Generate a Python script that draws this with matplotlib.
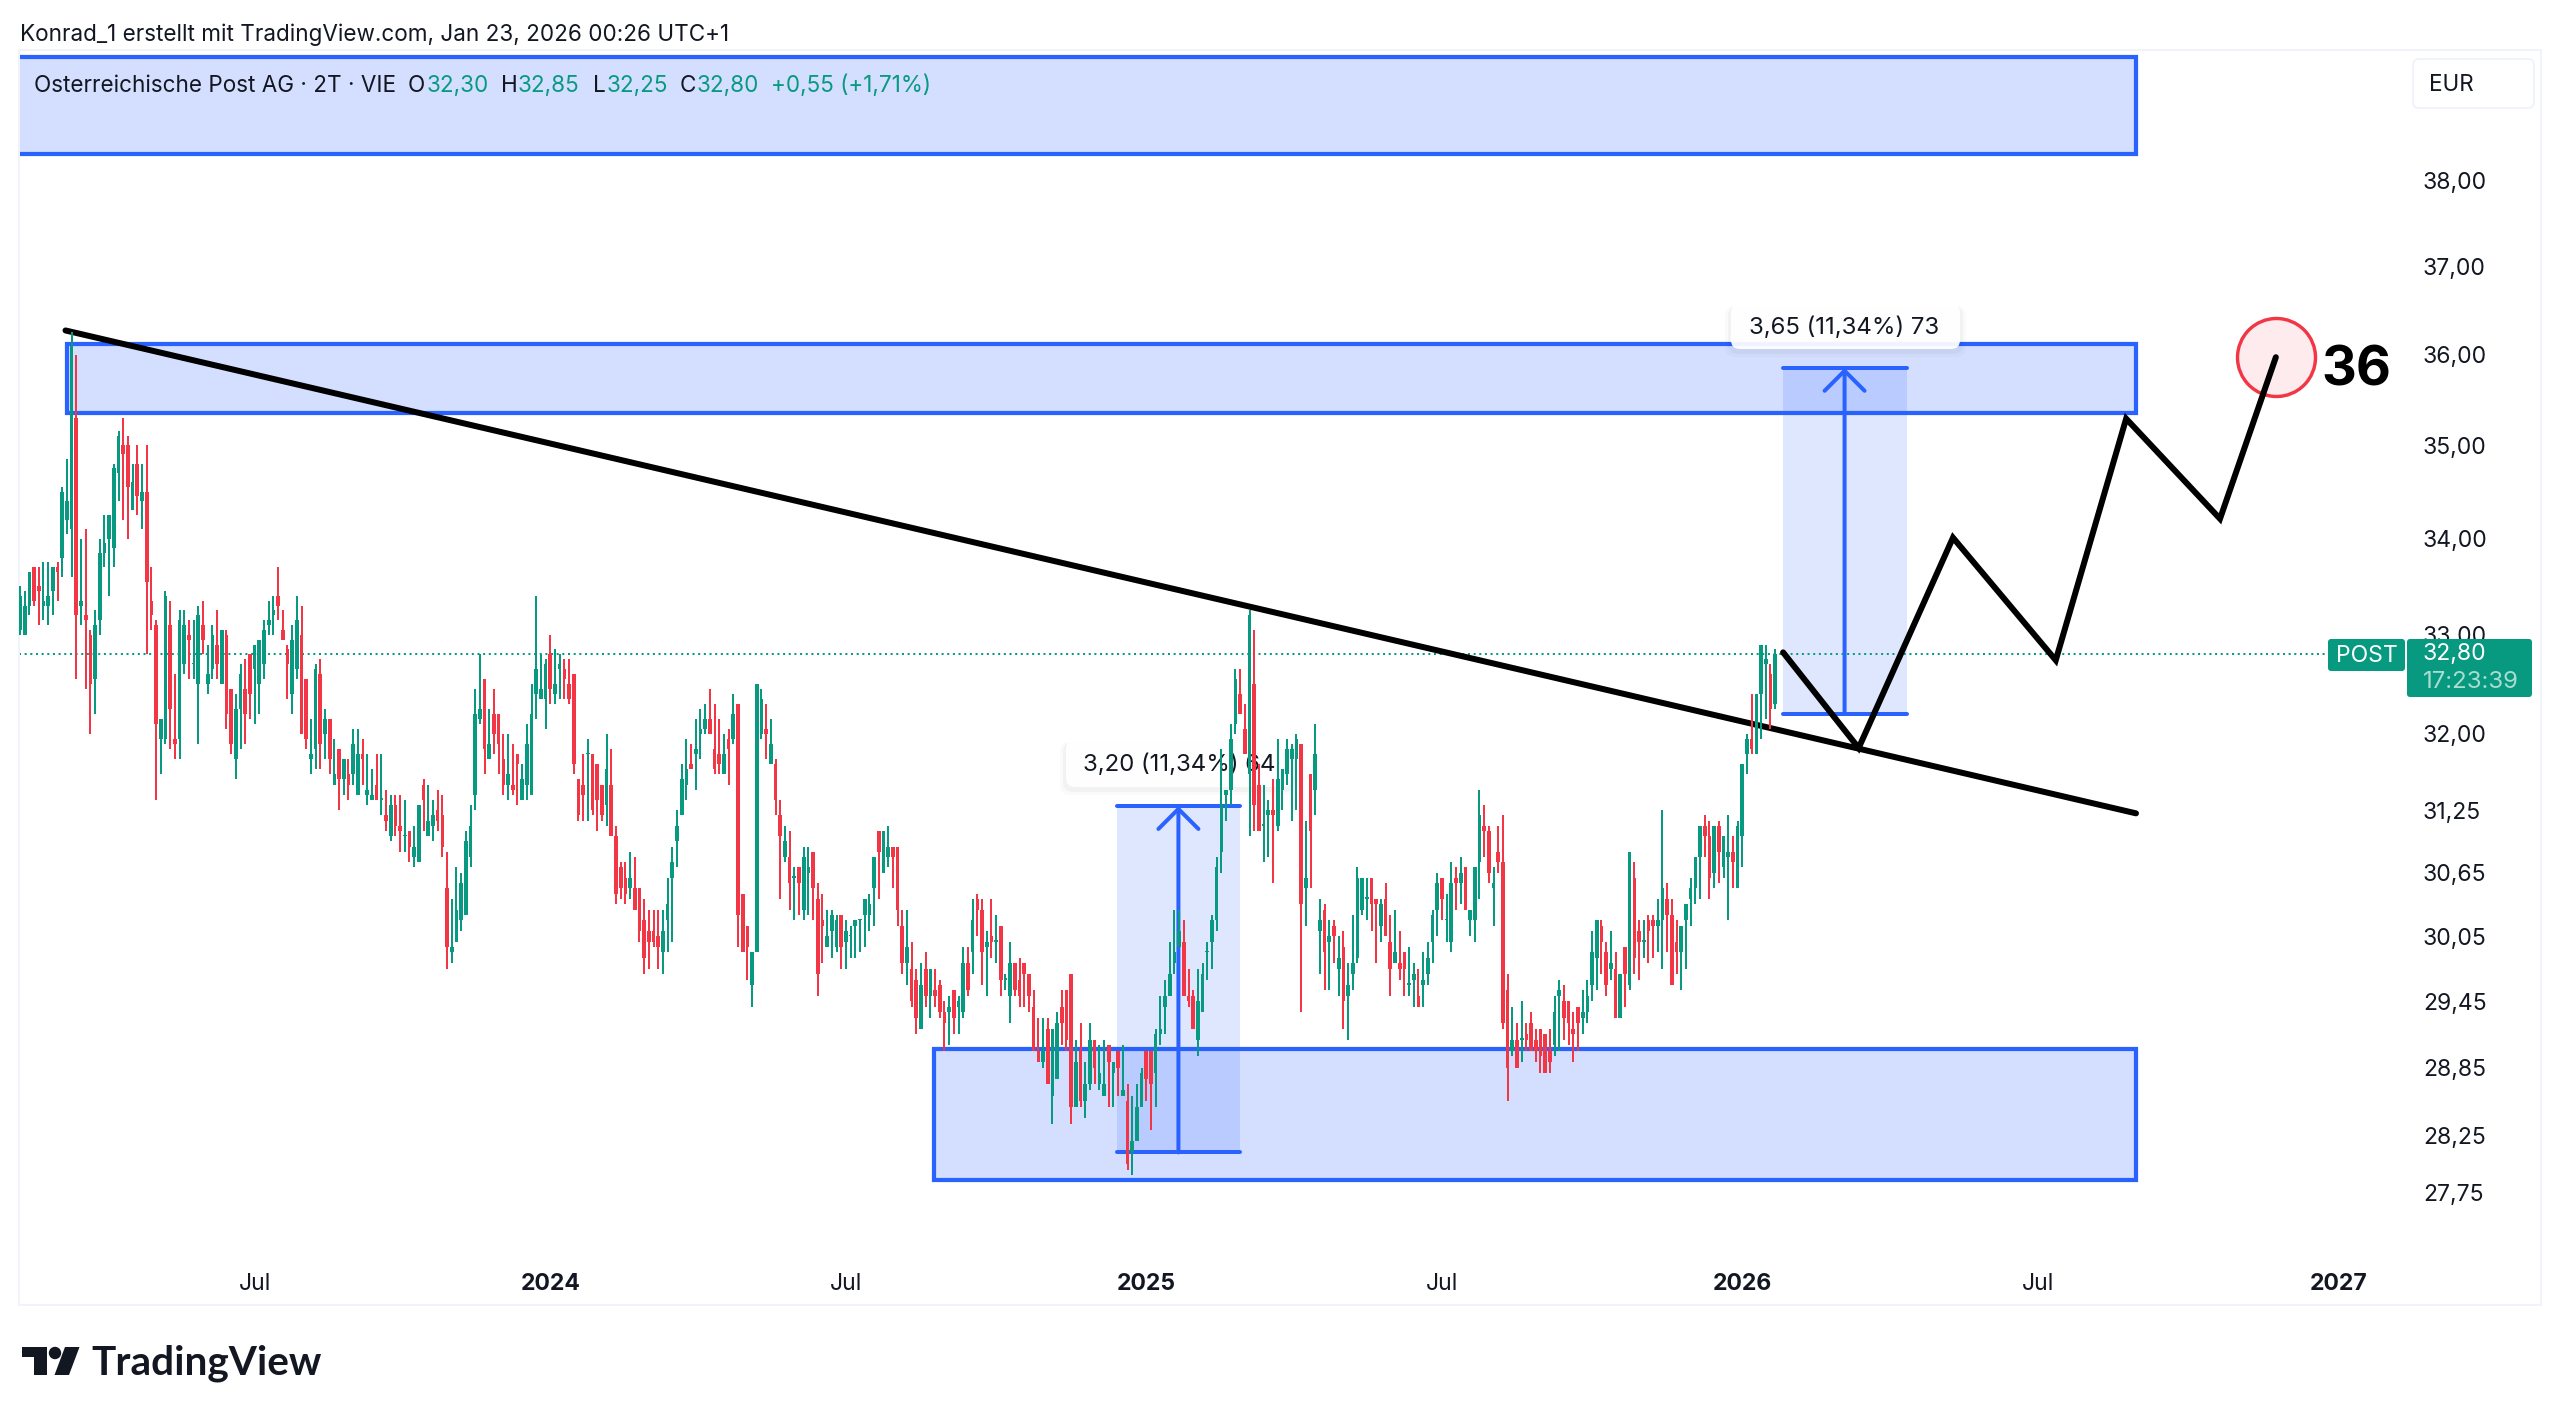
import numpy as np
from matplotlib import pyplot as plt
from matplotlib import transforms
from matplotlib.patches import Rectangle, FancyBboxPatch, Polygon, Circle

opens = [33.05,33.00,33.30,33.70,33.50,33.30,33.30,33.45,33.70,33.80,
    34.20,34.10,35.30,33.30,33.20,33.00,32.55,33.15,33.85,34.00,
    33.90,34.70,35.00,35.00,34.30,34.80,34.40,34.50,33.35,33.10,
    31.95,31.95,33.10,31.95,31.95,32.70,33.00,32.70,32.50,33.10,
    32.50,32.65,32.90,32.50,33.00,32.45,31.75,32.25,32.45,32.80,
    32.65,32.50,32.70,33.10,33.20,33.40,33.05,32.85,32.40,32.65,
    33.00,32.55,31.75,31.85,32.60,32.00,32.15,31.50,31.85,31.55,
    31.60,31.60,31.40,31.80,31.40,31.35,31.50,31.35,31.20,31.00,
    31.30,31.10,31.00,31.05,30.80,30.75,31.50,31.00,31.10,31.25,
    31.20,30.50,29.90,30.00,30.20,30.25,30.80,31.40,32.15,32.55,
    31.75,32.20,32.20,31.75,31.50,31.50,31.80,31.35,31.50,31.40,
    32.40,32.35,32.35,32.80,32.40,32.65,32.65,32.50,32.60,31.55,
    31.50,31.80,31.80,31.70,31.50,31.30,31.50,31.00,30.70,30.60,
    30.50,30.50,30.50,30.20,30.10,30.10,30.05,29.90,30.20,30.60,
    30.95,31.20,31.50,31.70,31.80,32.00,32.05,32.15,31.85,31.80,
    31.60,31.95,31.95,32.30,30.45,30.15,29.60,29.90,32.00,32.05,
    31.70,31.70,31.20,30.80,30.80,30.60,30.70,30.30,30.65,30.85,
    30.40,30.20,29.95,30.10,29.95,30.25,30.00,30.05,30.15,30.20,
    30.25,30.25,30.50,31.05,30.65,30.80,30.90,30.90,30.15,29.80,
    29.75,29.65,29.20,29.75,29.50,29.55,29.60,29.35,29.35,29.55,
    29.40,29.35,29.80,29.90,30.40,30.30,29.95,30.05,30.00,30.15,
    29.65,29.50,29.80,29.65,29.80,29.70,29.40,29.00,28.90,29.20,
    28.60,28.75,29.40,29.55,29.70,28.50,29.00,28.55,28.70,29.10,
    28.70,28.60,29.05,28.80,29.00,28.60,28.55,28.10,28.20,28.50,
    29.00,29.00,28.80,29.15,29.40,29.50,29.80,29.95,30.00,29.50,
    29.50,29.10,29.35,29.90,30.00,30.20,30.85,31.40,31.45,32.10,
    32.40,32.05,31.60,32.50,31.50,31.10,31.20,31.25,31.10,31.45,
    31.60,31.75,31.75,31.90,30.50,31.60,31.45,30.10,30.30,30.00,
    30.15,29.75,29.95,29.50,29.70,29.85,30.30,30.40,30.60,30.40,
    30.15,30.40,30.00,29.80,29.80,29.90,29.60,29.65,29.50,29.60,
    29.70,30.00,30.30,30.60,30.20,30.00,30.60,30.55,30.70,30.20,
    30.20,30.75,31.10,31.05,30.50,30.85,30.75,29.55,29.00,29.10,
    29.10,29.15,29.25,29.10,29.20,29.15,29.00,29.05,29.50,29.45,
    29.45,29.20,29.40,29.30,29.35,29.60,29.85,30.15,29.90,29.75,
    29.75,29.30,29.95,29.60,30.60,30.10,30.00,30.20,30.20,30.15,
    30.20,30.40,30.25,30.00,29.90,30.20,30.40,30.50,30.80,31.10,
    31.00,30.65,31.10,30.70,30.80,30.85,30.50,31.00,31.80,31.95,
    31.80,32.40,32.70,32.60,32.30]
highs = [33.50,33.45,33.65,33.70,33.70,33.75,33.75,33.70,33.75,34.55,
    34.85,36.25,36.00,34.00,34.10,33.05,33.25,34.00,34.25,34.25,
    34.80,35.15,35.30,35.10,34.80,35.00,34.80,35.00,33.70,33.15,
    32.15,33.45,33.35,32.60,33.25,33.25,33.15,33.15,33.30,33.35,
    32.90,33.10,33.25,33.05,33.05,32.45,32.40,32.70,32.75,32.80,
    32.90,32.95,33.15,33.35,33.40,33.70,33.25,32.90,33.10,33.40,
    33.30,32.55,32.15,32.70,32.75,32.25,32.15,31.95,31.85,31.75,
    31.75,32.05,32.05,31.95,31.80,31.65,31.80,31.80,31.45,31.40,
    31.40,31.40,31.35,31.05,31.10,31.30,31.55,31.50,31.35,31.45,
    31.40,30.85,30.40,30.70,30.65,31.05,31.30,32.45,32.80,32.55,
    32.25,32.45,32.20,32.00,32.00,31.90,31.80,31.70,32.10,32.50,
    33.40,32.80,32.75,33.00,32.85,32.80,32.75,32.75,32.60,31.55,
    31.80,31.95,31.80,31.70,31.50,32.00,31.85,31.10,30.75,30.75,
    30.85,30.80,30.50,30.40,30.30,30.30,30.30,30.30,30.60,30.90,
    31.25,31.70,31.95,31.90,32.15,32.25,32.30,32.45,32.30,32.15,
    32.00,32.05,32.40,32.30,30.45,30.15,29.90,32.50,32.45,32.30,
    32.15,31.75,31.35,31.10,31.05,30.70,30.70,30.90,30.90,30.85,
    30.55,30.45,30.30,30.30,30.25,30.25,30.20,30.15,30.20,30.20,
    30.40,30.45,30.80,31.05,31.05,31.10,30.90,30.90,30.30,30.30,
    30.00,29.75,29.80,29.90,29.75,29.75,29.65,29.45,29.50,29.55,
    29.50,29.95,29.95,30.40,30.45,30.40,30.10,30.40,30.25,30.15,
    29.70,30.00,29.80,29.85,29.80,29.70,29.55,29.30,29.30,29.30,
    29.20,29.35,29.55,29.55,29.70,29.10,29.25,28.90,29.25,29.10,
    29.05,29.10,29.05,28.90,29.00,29.05,28.70,28.60,28.70,28.85,
    29.00,29.00,29.20,29.50,29.65,30.00,30.30,30.30,30.20,29.75,
    29.55,29.75,29.80,30.00,30.25,30.80,31.85,31.45,32.10,32.65,
    32.65,32.30,33.25,33.05,31.70,31.50,31.35,31.55,31.95,31.65,
    31.95,31.90,32.00,31.90,31.15,31.60,32.10,30.40,30.35,30.20,
    30.20,30.05,30.10,29.80,30.25,30.70,30.60,30.60,30.60,30.40,
    30.40,30.55,30.25,30.30,30.10,29.90,29.95,29.80,29.75,29.90,
    30.00,30.30,30.65,30.60,30.45,30.75,30.70,30.80,30.70,30.30,
    30.70,31.45,31.30,31.10,30.70,31.10,31.20,29.70,29.40,29.25,
    29.45,29.25,29.35,29.20,29.20,29.15,29.20,29.50,29.65,29.60,
    29.45,29.35,29.40,29.55,29.65,30.10,30.20,30.20,30.00,30.10,
    29.90,29.70,29.95,30.85,30.75,30.20,30.20,30.25,30.25,30.40,
    31.25,30.55,30.40,30.20,30.15,30.35,30.60,30.80,31.10,31.20,
    31.15,31.10,31.15,31.00,31.20,31.00,31.15,31.70,32.00,32.40,
    32.40,32.90,32.90,32.70,32.85]
lows = [33.00,33.00,33.20,33.30,33.10,33.15,33.10,33.20,33.35,33.60,
    34.05,33.60,32.55,33.10,32.45,32.00,32.20,33.00,33.70,33.40,
    33.70,34.40,34.20,34.00,34.30,34.25,34.10,32.80,33.05,31.35,
    31.60,31.90,31.85,31.75,31.75,32.60,32.55,32.55,31.90,32.80,
    32.40,32.55,32.55,32.50,32.05,31.80,31.55,31.85,31.90,32.15,
    32.10,32.20,32.55,33.00,33.00,33.15,32.95,32.35,32.20,32.55,
    32.00,31.85,31.60,31.65,31.65,31.75,31.60,31.50,31.25,31.40,
    31.35,31.50,31.40,31.50,31.30,31.35,31.35,31.20,31.05,30.95,
    31.00,30.85,30.85,30.75,30.70,30.75,31.05,31.00,30.95,31.05,
    30.80,29.75,29.80,30.00,30.10,30.25,30.70,31.25,32.10,31.60,
    31.75,31.80,31.60,31.40,31.35,31.40,31.30,31.35,31.35,31.40,
    32.15,32.35,32.05,32.30,32.30,32.35,32.35,32.30,31.60,31.15,
    31.15,31.15,31.20,31.05,31.15,31.10,31.00,30.35,30.40,30.35,
    30.40,30.30,30.00,29.70,29.75,29.95,29.75,29.70,29.90,30.00,
    30.70,31.20,31.35,31.65,31.45,31.75,32.00,32.00,31.60,31.60,
    31.60,31.50,31.90,29.95,29.90,29.65,29.40,29.90,31.95,31.75,
    31.70,31.20,30.40,30.75,30.30,30.20,30.25,30.20,30.25,30.20,
    29.50,29.80,29.95,29.85,29.90,29.75,29.75,29.85,29.85,29.90,
    29.95,30.10,30.15,30.40,30.65,30.70,30.50,30.15,29.70,29.60,
    29.40,29.15,29.20,29.40,29.30,29.40,29.30,29.00,29.05,29.15,
    29.15,29.30,29.50,29.70,30.05,29.60,29.50,29.85,29.80,29.50,
    29.55,29.25,29.50,29.40,29.40,29.35,29.00,28.90,28.85,28.70,
    28.35,28.75,29.05,29.00,28.35,28.50,28.50,28.40,28.65,28.70,
    28.65,28.60,28.50,28.50,28.60,28.60,27.95,27.90,28.20,28.50,
    28.55,28.30,28.50,29.05,29.15,29.50,29.70,29.95,29.50,29.40,
    29.20,28.95,29.35,29.65,29.75,30.10,30.65,31.15,31.30,32.00,
    32.20,31.80,31.00,31.05,31.05,30.75,30.80,30.55,31.05,31.25,
    31.50,31.15,31.25,29.35,30.15,30.50,31.20,29.70,29.55,29.55,
    29.80,29.50,29.20,29.10,29.55,29.80,30.25,30.20,30.10,29.80,
    30.00,30.05,29.50,29.80,29.65,29.50,29.50,29.40,29.40,29.40,
    29.60,29.80,30.05,30.20,30.00,29.90,30.30,30.35,30.30,30.05,
    30.00,30.40,30.80,30.55,30.15,30.65,29.20,28.55,28.95,28.85,
    28.90,29.00,29.00,28.90,28.80,28.80,28.80,28.95,29.00,29.10,
    29.05,28.90,29.00,29.15,29.25,29.45,29.55,29.70,29.50,29.65,
    29.30,29.30,29.40,29.55,29.70,29.65,29.85,29.80,29.85,29.90,
    29.75,29.90,29.60,29.70,29.55,29.75,30.15,30.35,30.40,30.80,
    30.40,30.50,30.55,30.60,30.20,30.50,30.50,30.70,31.60,31.80,
    31.80,31.95,32.15,32.05,32.25]
closes = [33.40,33.30,33.65,33.35,33.45,33.35,33.40,33.70,33.65,34.50,
    34.40,36.10,33.20,33.35,33.15,32.50,33.10,33.85,33.95,34.25,
    34.75,35.10,34.90,34.55,34.60,34.45,34.50,33.55,33.20,32.10,
    32.15,33.40,32.25,31.90,33.15,33.10,32.95,32.70,33.20,32.95,
    32.60,33.00,32.70,33.05,32.20,31.90,32.25,32.60,32.20,32.40,
    32.90,32.95,33.05,33.15,33.25,33.30,32.95,32.70,32.95,33.15,
    32.00,31.95,31.80,32.65,31.90,32.15,31.75,31.60,31.55,31.75,
    31.50,31.90,31.80,31.75,31.45,31.40,31.35,31.35,31.15,31.30,
    31.10,31.05,31.00,30.90,30.90,31.30,31.35,31.15,31.20,31.15,
    30.90,29.95,29.95,30.30,30.55,30.95,31.10,32.20,32.25,31.85,
    31.90,32.00,31.90,31.50,31.60,31.45,31.70,31.55,31.90,32.20,
    32.65,32.45,32.70,32.45,32.50,32.70,32.55,32.35,31.70,31.20,
    31.40,31.80,31.25,31.35,31.20,31.65,31.00,30.45,30.50,30.45,
    30.60,30.30,30.10,29.85,30.00,30.00,29.95,30.10,30.35,30.75,
    31.10,31.55,31.65,31.65,31.85,32.05,32.15,32.00,31.65,31.70,
    31.80,31.85,32.20,30.25,29.90,29.95,29.90,32.50,32.35,32.00,
    31.90,31.35,31.00,30.95,30.55,30.60,30.55,30.80,30.70,30.50,
    29.70,30.15,30.05,30.25,30.20,29.95,30.10,30.05,30.20,30.20,
    30.40,30.35,30.80,30.85,31.05,30.90,30.80,30.30,29.80,29.95,
    29.45,29.30,29.60,29.50,29.75,29.50,29.35,29.25,29.40,29.30,
    29.45,29.80,29.55,30.20,30.30,29.90,30.00,30.00,30.00,29.65,
    29.65,29.80,29.55,29.50,29.70,29.50,29.00,28.90,29.00,28.70,
    29.20,29.25,29.25,29.10,28.50,28.90,28.55,28.70,29.10,28.85,
    28.80,28.70,28.90,28.90,28.85,28.65,28.00,28.20,28.50,28.80,
    28.75,28.70,29.15,29.20,29.50,29.70,29.90,30.10,29.50,29.45,
    29.20,29.45,29.70,29.90,30.20,30.70,31.30,31.45,31.95,32.55,
    32.20,31.80,33.20,31.30,31.05,31.10,31.25,31.20,31.55,31.65,
    31.85,31.85,31.95,30.35,30.60,31.05,31.80,30.20,29.90,30.05,
    30.05,29.85,29.45,29.60,29.80,30.60,30.60,30.40,30.35,30.35,
    30.35,30.05,29.75,29.90,29.75,29.75,29.60,29.70,29.40,29.65,
    29.85,30.25,30.55,30.40,30.20,30.55,30.55,30.65,30.30,30.30,
    30.70,31.20,31.05,30.65,30.55,30.75,29.25,28.85,29.10,28.85,
    29.10,29.10,29.00,29.00,28.95,28.80,28.90,29.35,29.55,29.30,
    29.25,29.15,29.25,29.35,29.50,29.90,30.20,30.00,29.60,29.80,
    29.30,29.70,29.70,30.85,29.85,30.00,30.00,30.10,30.15,30.20,
    30.50,30.25,29.60,29.90,30.15,30.35,30.50,30.80,31.10,31.00,
    30.60,31.10,30.85,31.00,30.85,30.75,31.10,31.70,31.95,31.85,
    32.40,32.90,32.75,32.25,32.80]

price_ticks = [38, 37, 36, 35, 34, 33, 32, 31.25, 30.65, 30.05, 29.45, 28.85, 28.25, 27.75]
time_ticks = [50, 113, 176, 240, 303, 367, 430, 494]
time_labels = ['Jul', '2024', 'Jul', '2025', 'Jul', '2026', 'Jul', '2027']

last_price = 32.80
trend_x = [9.7, 450.9]
trend_y = [36.27, 31.22]
path_x = [375.7, 391.8, 411.9, 433.8, 448.8, 468.8, 480.7]
path_y = [32.82, 31.86, 34.01, 32.74, 35.29, 34.21, 35.97]

GREEN = '#089981'
RED = '#f23645'
BLUE = '#2962ff'
INK = '#131722'
FRAME = '#f0f3fa'

plt.rcParams['font.family'] = ['Inter', 'DejaVu Sans']
W, H = 2560, 1419
px = 72 / 100  # one image pixel in points

fig = plt.figure(figsize=(W / 100, H / 100), dpi=100)
ax = fig.add_axes([19 / W, 1 - 1305 / H, 2522 / W, 1255 / H])
ax.set_yscale('log')
ax.set_xlim(-0.21, 537.2)
ax.set_ylim(26.80, 39.57)

# pixel coordinates from the top left, for the things glued to the screen
pix = transforms.Affine2D().scale(1, -1).translate(0, H)

def box(x0, x1, y0, y1):
    ax.add_patch(Rectangle((x0, y0), x1 - x0, y1 - y0, facecolor=(0.16, 0.38, 1, 0.2),
                           edgecolor=BLUE, lw=4.2 * px, zorder=1, clip_on=True))

def measure(x0, x1, y0, y1, label, lx0, lx1, ly0, ly1, tx, ty):
    ax.add_patch(Rectangle((x0, y0), x1 - x0, y1 - y0, facecolor=(0.16, 0.38, 1, 0.15),
                           edgecolor='none', zorder=1.2))
    ax.plot([x0, x1], [y0, y0], color=BLUE, lw=4 * px, solid_capstyle='round', zorder=1.5)
    ax.plot([x0, x1], [y1, y1], color=BLUE, lw=4 * px, solid_capstyle='round', zorder=1.5)
    mid = (x0 + x1) / 2
    ax.annotate('', xy=(mid, y1), xytext=(mid, y0), zorder=1.5,
                arrowprops=dict(arrowstyle='->,head_length=1,head_width=1', color=BLUE, lw=4 * px,
                                shrinkA=0, shrinkB=0, mutation_scale=20 * px, capstyle='round'))
    for grow, alpha in [(6, 0.02), (3, 0.03)]:
        ax.add_patch(FancyBboxPatch((lx0 - grow, ly0 + 2), lx1 - lx0 + 2 * grow, ly1 - ly0 + grow,
                                    boxstyle='round,pad=0,rounding_size=10', transform=pix,
                                    facecolor='black', alpha=alpha, edgecolor='none', zorder=1.8))
    ax.add_patch(FancyBboxPatch((lx0, ly0), lx1 - lx0, ly1 - ly0, boxstyle='round,pad=0,rounding_size=9',
                                transform=pix, facecolor='white', edgecolor='none', alpha=0.94, zorder=1.9))
    ax.text(tx, ty, label, transform=pix, fontsize=24 * px, color=INK, va='center', ha='left', zorder=2)

# drawings sit under the candles
box(-2, 450.9, 38.31, 39.48)
box(10, 450.9, 35.35, 36.12)
box(194.8, 450.9, 27.86, 29.02)
measure(233.7, 260, 28.10, 31.29, '3,20 (11,34%) 64', 1066, 1292, 740, 787, 1083, 765)
measure(375.6, 402, 32.20, 35.85, '3,65 (11,34%) 73', 1731, 1960, 304, 349, 1749, 328)

ax.plot([-0.21, 491.6], [last_price, last_price], color=GREEN, lw=2 * px,
        linestyle=(0, (1, 1.83)), dash_capstyle='butt', zorder=1.7)

ax.plot(trend_x, trend_y, color='black', lw=6 * px, solid_capstyle='round', zorder=2.2)
ax.scatter([path_x[-1]], [path_y[-1]], s=(78 * px) ** 2, facecolor='#fdebed', edgecolor=RED,
           linewidth=3.4 * px, zorder=2.1)
ax.plot(path_x, path_y, color='black', lw=6 * px, solid_capstyle='round', solid_joinstyle='miter', zorder=2.2)

# candles
o = np.array(opens)
c = np.array(closes)
xs = np.arange(len(o))
colors = np.where(c >= o, GREEN, RED)
ax.vlines(xs, lows, highs, colors=colors, lw=2 * px, zorder=4)
ax.bar(xs, np.maximum(np.abs(c - o), 0.015), bottom=np.minimum(o, c), width=0.78,
       color=colors, linewidth=0, zorder=4)

ax.set_yticks(price_ticks)
ax.set_yticklabels([f'{t:.2f}'.replace('.', ',') for t in price_ticks])
ax.minorticks_off()
ax.yaxis.tick_right()
ax.tick_params(axis='y', length=0, pad=-118 * px, labelsize=23 * px, labelcolor=INK)
ax.set_xticks(time_ticks)
ax.set_xticklabels(time_labels)
ax.tick_params(axis='x', length=0, pad=-32 * px, labelsize=23 * px, labelcolor=INK)
for lab in ax.get_xticklabels():
    lab.set_ha('center')
    if lab.get_text().startswith('20'):
        lab.set_fontweight('bold')
for s in ax.spines.values():
    s.set_color(FRAME)
    s.set_linewidth(2 * px)

# price tags on the right hand scale
ax.add_patch(FancyBboxPatch((2328, 639), 77, 32, boxstyle='round,pad=0,rounding_size=3', transform=pix,
                            facecolor=GREEN, edgecolor='none', zorder=5, clip_on=False))
ax.add_patch(FancyBboxPatch((2407, 639), 125, 58, boxstyle='round,pad=0,rounding_size=3', transform=pix,
                            facecolor=GREEN, edgecolor='none', zorder=5, clip_on=False))
ax.text(2367, 656, 'POST', transform=pix, color='white', fontsize=23 * px, ha='center', va='center', zorder=6)
ax.text(2423, 654, '32,80', transform=pix, color='white', fontsize=23 * px, ha='left', va='center', zorder=6)
ax.text(2423, 682, '17:23:39', transform=pix, color='#a9ddd0', fontsize=24 * px, ha='left', va='center', zorder=6)

ax.add_patch(FancyBboxPatch((2413, 59), 121, 49, boxstyle='round,pad=0,rounding_size=6', transform=pix,
                            facecolor='white', edgecolor=FRAME, lw=2 * px, zorder=5))
ax.text(2429, 85, 'EUR', transform=pix, color=INK, fontsize=22.5 * px, va='center', zorder=6)

ax.text(2321, 371, '36', transform=pix, color='black', fontsize=54 * px, fontweight='bold', va='center', zorder=6)

# legend row
ax.text(34, 86, 'Osterreichische Post AG · 2T · VIE', transform=pix, color=INK, fontsize=22.5 * px, va='center', zorder=6)
for x, s, col in [(408, 'O', INK), (427, '32,30', GREEN), (501, 'H', INK), (518, '32,85', GREEN),
                  (593, 'L', INK), (607, '32,25', GREEN), (680, 'C', INK), (697, '32,80', GREEN),
                  (771, '+0,55 (+1,71%)', GREEN)]:
    ax.text(x, 86, s, transform=pix, color=col, fontsize=22.5 * px, va='center', zorder=6)

# header and logo
ax.text(20, 35, 'Konrad_1 erstellt mit TradingView.com, Jan 23, 2026 00:26 UTC+1', transform=pix, color=INK,
        fontsize=22.5 * px, va='center', clip_on=False)
LOGO = '#131722'
ax.add_patch(Polygon([(22, 1347), (47, 1347), (47, 1375), (34, 1375), (34, 1357), (22, 1357)], transform=pix,
                     facecolor=LOGO, edgecolor='none', clip_on=False))
ax.add_patch(Circle((55, 1353), 6.2, transform=pix, facecolor=LOGO, edgecolor='none', clip_on=False))
ax.add_patch(Polygon([(65, 1347), (79.5, 1347), (69, 1375), (54.5, 1375)], transform=pix,
                     facecolor=LOGO, edgecolor='none', clip_on=False))
ax.text(91, 1363, 'TradingView', transform=pix, color=LOGO, fontsize=40.5 * px, fontweight='bold',
        family=['Lato', 'DejaVu Sans'], va='center', clip_on=False)

fig.savefig('out.png', dpi=100, facecolor='white')
